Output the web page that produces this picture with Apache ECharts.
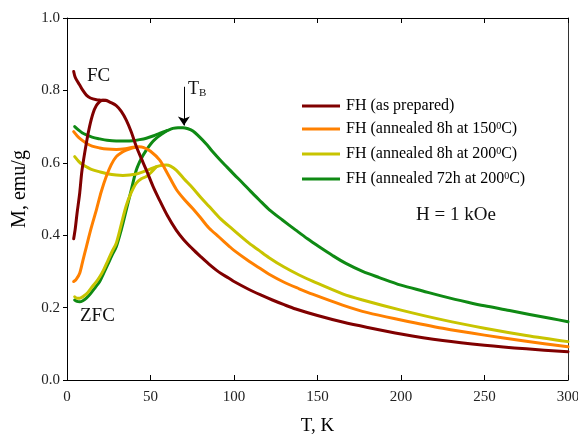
<!DOCTYPE html>
<html>
<head>
<meta charset="utf-8">
<script src="https://cdn.jsdelivr.net/npm/echarts@6/dist/echarts.min.js"></script>
<style>html,body{margin:0;padding:0;background:#fff;}#c{width:578px;height:437px;}</style>
</head>
<body>
<div id="c"></div>
<script>
// ---- Data ----
const seriesNames = ['FH (as prepared)', 'FH (annealed 8h at 150°C)', 'FH (annealed 8h at 200°C)', 'FH (annealed 72h at 200°C)'];
const legendLabels = ['FH (as prepared)', 'FH (annealed 8h at 150{sup|0}C)', 'FH (annealed 8h at 200{sup|0}C)', 'FH (annealed 72h at 200{sup|0}C)'];
const colors = ['#800000', '#ff8000', '#c8c400', '#0f8a14'];
const xTicks = [0, 50, 100, 150, 200, 250, 300];
const yTicks = [0.0, 0.2, 0.4, 0.6, 0.8, 1.0];

// as prepared
const T_red_zfc = [4, 5, 6, 7.6, 9, 11.6, 13.5, 15.6, 17.6, 19.6, 21.5, 23.5];
const M_red_zfc = [0.39, 0.42, 0.46, 0.516, 0.58, 0.655, 0.70, 0.737, 0.758, 0.769, 0.773, 0.773];
const T_red_fc = [4, 5, 7.6, 9.5, 11.6, 14, 17.6, 20, 23.5, 26, 29.5, 32.5, 35.5, 38.5, 41.5, 44.5, 47.5, 51.5, 55.4, 60, 65.4, 70, 75, 80, 85, 91, 97, 100, 109, 117, 123, 130, 137, 150, 165, 180, 200, 225, 250, 275, 300];
const M_red_fc = [0.852, 0.835, 0.815, 0.80, 0.787, 0.779, 0.774, 0.773, 0.772, 0.767, 0.758, 0.742, 0.718, 0.685, 0.645, 0.612, 0.58, 0.535, 0.497, 0.455, 0.414, 0.387, 0.363, 0.341, 0.32, 0.298, 0.281, 0.272, 0.25, 0.233, 0.221, 0.208, 0.196, 0.178, 0.16, 0.145, 0.127, 0.109, 0.096, 0.086, 0.078];

// annealed 8h at 150 C
const T_or_zfc = [4, 5.5, 7.6, 9.5, 11.6, 14.5, 17.6, 20.5, 23.5, 26.5, 29.5, 32.5, 35.5, 38.5, 41];
const M_or_zfc = [0.272, 0.278, 0.295, 0.33, 0.368, 0.42, 0.47, 0.52, 0.562, 0.595, 0.617, 0.628, 0.635, 0.64, 0.643];
const T_or_fc = [4, 6, 8, 11.6, 15, 19.6, 24, 29.5, 35, 39.5, 43, 46, 50, 55.4, 60, 65.4, 70, 75, 80, 85, 91, 97, 100, 109, 115, 121, 130, 139, 147, 165, 180, 200, 225, 250, 275, 300];
const M_or_fc = [0.686, 0.675, 0.666, 0.654, 0.646, 0.641, 0.638, 0.637, 0.639, 0.643, 0.644, 0.642, 0.632, 0.608, 0.572, 0.527, 0.5, 0.475, 0.448, 0.42, 0.395, 0.37, 0.358, 0.328, 0.31, 0.292, 0.27, 0.252, 0.237, 0.207, 0.186, 0.166, 0.143, 0.124, 0.107, 0.092];

// annealed 8h at 200 C
const T_ye_zfc = [4.6, 6, 7.6, 10, 12.5, 15, 17.6, 19.6, 22, 24.5, 27, 29.5, 32.5, 35.5, 38.5, 41.5, 44.5, 47.5, 50.5, 53.5];
const M_ye_zfc = [0.23, 0.226, 0.226, 0.232, 0.242, 0.257, 0.272, 0.285, 0.305, 0.33, 0.355, 0.378, 0.43, 0.482, 0.518, 0.544, 0.556, 0.562, 0.574, 0.589];
const T_ye_fc = [4.6, 7, 9, 11.6, 15, 19.6, 24, 29.5, 33.5, 37.5, 41.5, 45.5, 49.5, 53.5, 57, 59.5, 62, 65.4, 70, 75, 80, 85, 92, 97, 109, 115, 121, 130, 139, 147, 165, 177, 200, 225, 250, 275, 300];
const M_ye_fc = [0.617, 0.604, 0.596, 0.589, 0.581, 0.575, 0.57, 0.566, 0.565, 0.566, 0.569, 0.575, 0.582, 0.589, 0.593, 0.594, 0.591, 0.58, 0.556, 0.532, 0.505, 0.48, 0.445, 0.425, 0.378, 0.358, 0.338, 0.312, 0.29, 0.273, 0.238, 0.221, 0.193, 0.166, 0.143, 0.123, 0.106];

// annealed 72h at 200 C
const T_gr_zfc = [4.6, 6, 7.6, 9.5, 11.6, 14, 17, 19.6, 22, 24.5, 27, 29.5, 32.5, 35.5, 38.5, 41.5, 44.5, 47.5, 50.5, 53.5, 57, 60];
const M_gr_zfc = [0.221, 0.217, 0.216, 0.219, 0.226, 0.238, 0.256, 0.272, 0.295, 0.32, 0.345, 0.368, 0.415, 0.47, 0.525, 0.58, 0.612, 0.635, 0.654, 0.668, 0.68, 0.689];
const T_gr_fc = [4.6, 7, 9, 11.6, 15, 19.6, 24, 29.5, 35, 39.5, 43.5, 47.5, 51.5, 55.4, 60, 63.4, 66.5, 69.4, 72.5, 75.4, 79, 83.4, 87, 91.3, 95, 100, 105, 110, 115, 121.2, 129, 137, 144, 151, 159, 167, 177, 187, 200, 213, 227, 240, 250, 265, 277, 290, 300];
const M_gr_fc = [0.70, 0.69, 0.683, 0.677, 0.671, 0.666, 0.662, 0.66, 0.66, 0.661, 0.664, 0.668, 0.674, 0.681, 0.689, 0.695, 0.697, 0.697, 0.694, 0.688, 0.673, 0.652, 0.632, 0.61, 0.592, 0.568, 0.545, 0.521, 0.498, 0.47, 0.442, 0.414, 0.39, 0.368, 0.344, 0.322, 0.3, 0.283, 0.262, 0.246, 0.229, 0.215, 0.205, 0.192, 0.181, 0.17, 0.161];

// T_B arrow (data coords)
const arrowT = 70;
const arrowFrom = 0.81;
const arrowTo = 0.703;

// ---- build ----
const zip = (a, b) => a.map((v, i) => [v, b[i]]);
const curves = [
  [T_gr_fc, M_gr_fc, T_gr_zfc, M_gr_zfc, 3],
  [T_ye_fc, M_ye_fc, T_ye_zfc, M_ye_zfc, 2],
  [T_or_fc, M_or_fc, T_or_zfc, M_or_zfc, 1],
  [T_red_fc, M_red_fc, T_red_zfc, M_red_zfc, 0]
];
const series = [];
curves.forEach(c => {
  const idx = c[4];
  const base = {
    type: 'line', name: seriesNames[idx], showSymbol: false, symbol: 'none',
    smooth: 0.3, color: colors[idx],
    lineStyle: { width: 3, color: colors[idx], cap: 'round', join: 'round' }, silent: true, animation: false
  };
  series.push(Object.assign({}, base, { data: zip(c[0], c[1]) }));
  series.push(Object.assign({}, base, { data: zip(c[2], c[3]) }));
});
series.push({
  type: 'line', data: [], silent: true, animation: false,
  markLine: {
    silent: true, symbol: ['none', 'arrow'], symbolSize: [9, 9],
    lineStyle: { color: '#000', width: 1, type: 'solid' },
    label: { show: false },
    data: [[{ coord: [arrowT, arrowFrom] }, { coord: [arrowT, arrowTo] }]]
  }
});

const serif = 'Liberation Serif, Times New Roman, serif';
const chart = echarts.init(document.getElementById('c'), null, { renderer: 'canvas' });
chart.setOption({
  animation: false,
  backgroundColor: '#fff',
  grid: { left: 67, right: 10, top: 18, bottom: 57, containLabel: false, outerBoundsMode: 'none' },
  legend: {
    data: seriesNames, orient: 'vertical', left: 297, top: 93,
    icon: 'rect', itemWidth: 38, itemHeight: 3, itemGap: 7,
    selectedMode: false,
    formatter: name => legendLabels[seriesNames.indexOf(name)],
    textStyle: {
      fontFamily: serif, fontSize: 16, color: '#000', lineHeight: 16, padding: [0, 0, 0, 1],
      rich: { sup: { fontFamily: serif, fontSize: 10, color: '#000', verticalAlign: 'top', lineHeight: 16, padding: [0, 0, 8, 0] } }
    }
  },
  xAxis: [{
    type: 'value', min: 0, max: 300, interval: 50,
    name: 'T, K', nameLocation: 'middle', nameGap: 37,
    nameTextStyle: { fontFamily: serif, fontSize: 19, color: '#000' },
    axisLine: { show: true, onZero: false, lineStyle: { color: '#000', width: 1 } },
    axisTick: { show: true, inside: true, length: 5, lineStyle: { color: '#000' } },
    axisLabel: { margin: 10, fontFamily: serif, fontSize: 15, color: '#222',
      formatter: v => xTicks.indexOf(v) >= 0 ? String(v) : '' },
    splitLine: { show: false }
  }, {
    type: 'value', min: 0, max: 300, interval: 50, position: 'top',
    axisLine: { show: true, onZero: false, lineStyle: { color: '#000', width: 1 } },
    axisTick: { show: true, inside: true, length: 5, lineStyle: { color: '#000' } },
    axisLabel: { show: false }, splitLine: { show: false }
  }],
  yAxis: [{
    type: 'value', min: 0, max: 1, interval: 0.2,
    name: 'M, emu/g', nameLocation: 'middle', nameGap: 37, nameRotate: 90,
    nameTextStyle: { fontFamily: serif, fontSize: 20, color: '#000', padding: [0, 0, 0, 20] },
    axisLine: { show: true, onZero: false, lineStyle: { color: '#000', width: 1 } },
    axisTick: { show: true, inside: false, length: 4, lineStyle: { color: '#000' } },
    axisLabel: { margin: 7, fontFamily: serif, fontSize: 15, color: '#222',
      formatter: v => { const t = yTicks.find(y => Math.abs(y - v) < 1e-6); return t === undefined ? '' : t.toFixed(1); } },
    splitLine: { show: false }
  }, {
    type: 'value', min: 0, max: 1, interval: 0.2, position: 'right',
    axisLine: { show: true, onZero: false, lineStyle: { color: '#333', width: 1 } },
    axisTick: { show: false }, axisLabel: { show: false }, splitLine: { show: false }
  }],
  graphic: [
    { type: 'text', left: 87, top: 67, style: { text: 'FC', font: '19px ' + serif, fill: '#111' } },
    { type: 'text', left: 80, top: 307, style: { text: 'ZFC', font: '19px ' + serif, fill: '#111' } },
    { type: 'text', left: 416, top: 206, style: { text: 'H = 1 kOe', font: '19px ' + serif, fill: '#111' } },
    { type: 'text', left: 188, top: 80, style: {
        text: '{t|T}{b|B}',
        rich: { t: { fontFamily: serif, fontSize: 18, fill: '#111', color: '#111', lineHeight: 20 },
                b: { fontFamily: serif, fontSize: 11, fill: '#111', color: '#111', verticalAlign: 'bottom', lineHeight: 20, padding: [6, 0, 0, 0] } } } }
  ],
  series: series
});
</script>
</body>
</html>
